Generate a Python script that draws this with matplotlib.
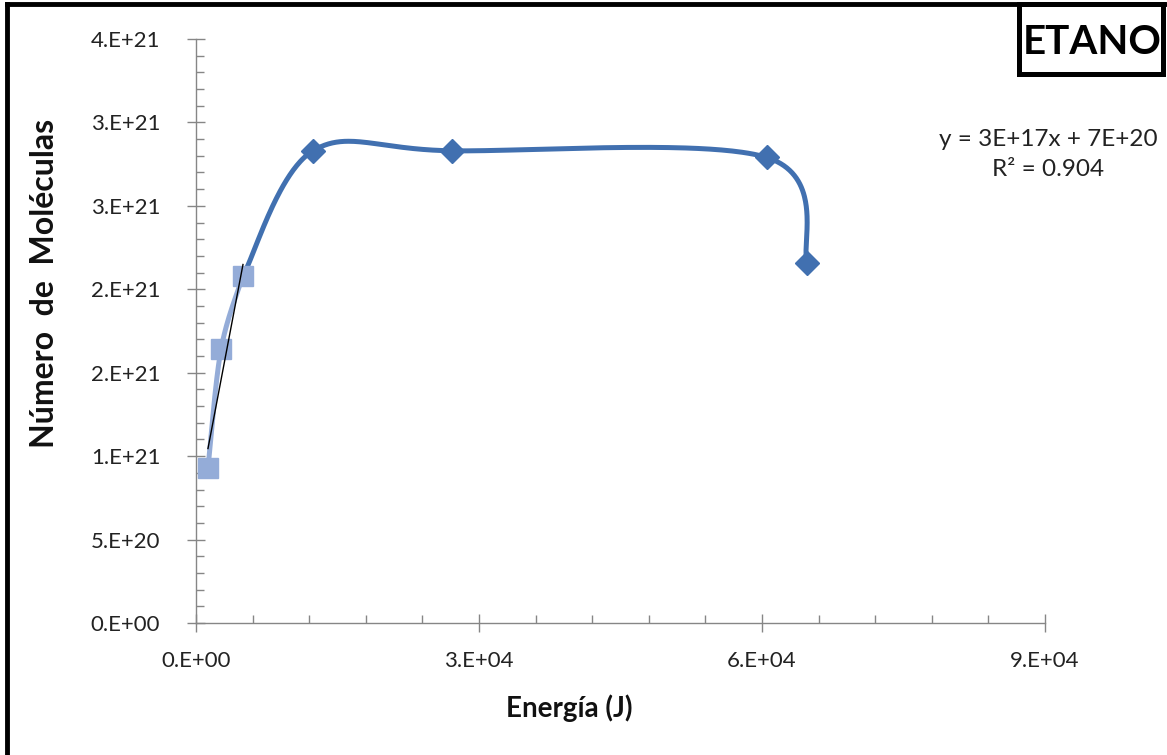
import numpy as np
import matplotlib
matplotlib.use("Agg")
import matplotlib.pyplot as plt
from matplotlib.ticker import FixedLocator, MultipleLocator
from matplotlib.patches import Rectangle
from matplotlib.lines import Line2D

# Datos: energía (J) frente a número de moléculas
energia_baja = [1270, 2650, 4980]
moleculas_baja = [0.93e21, 1.64e21, 2.08e21]
energia_alta = [4980, 12400, 27100, 60500, 64800]
moleculas_alta = [2.08e21, 2.83e21, 2.83e21, 2.79e21, 2.16e21]

y_ticks = [0, 5e20, 1.0e21, 1.5e21, 2.0e21, 2.5e21, 3.0e21, 3.5e21]
y_tick_labels = ["0.E+00", "5.E+20", "1.E+21", "2.E+21", "2.E+21", "3.E+21", "3.E+21", "4.E+21"]
x_ticks = [0, 3e4, 6e4, 9e4]
x_tick_labels = ["0.E+00", "3.E+04", "6.E+04", "9.E+04"]

plt.rcParams["font.family"] = ["Lato", "DejaVu Sans"]

W, H = 1167, 755
fig = plt.figure(figsize=(W / 100, H / 100), dpi=100)
fig.patch.set_facecolor("white")

def fx(px):
    return px / W

def fy(py):
    return 1 - py / H

ax = fig.add_axes([fx(196), fy(623), fx(1045) - fx(196), fy(39) - fy(623)])
ax.set_xlim(0, 9e4)
ax.set_ylim(0, 3.5e21)

gris = "#868686"
for s in ("top", "right"):
    ax.spines[s].set_visible(False)
for s in ("left", "bottom"):
    ax.spines[s].set_color(gris)
    ax.spines[s].set_linewidth(1.0)

ax.yaxis.set_major_locator(FixedLocator(y_ticks))
ax.set_yticklabels(y_tick_labels)
ax.yaxis.set_minor_locator(MultipleLocator(1e20))
ax.xaxis.set_major_locator(FixedLocator(x_ticks))
ax.set_xticklabels(x_tick_labels)
ax.xaxis.set_minor_locator(MultipleLocator(6e3))

ax.tick_params(which="major", direction="inout", length=12.5, width=1.0,
               color=gris, labelsize=16, labelcolor="#222222")
ax.tick_params(axis="y", which="major", pad=19.5)
ax.tick_params(axis="x", which="major", pad=14)
ax.tick_params(which="minor", direction="in", length=6, width=1.0, color=gris)


def suavizar(ax, xs, ys, n=80, t=1 / 6):
    """Curva suavizada tipo Bézier (Catmull-Rom) calculada en espacio de pantalla."""
    pts = ax.transData.transform(np.column_stack([xs, ys]))
    m = len(pts)
    out = [pts[0]]
    s = np.linspace(0, 1, n)[1:, None]
    for i in range(m - 1):
        p0 = pts[i - 1] if i > 0 else pts[i]
        p1 = pts[i]
        p2 = pts[i + 1]
        p3 = pts[i + 2] if i + 2 < m else pts[i + 1]
        c1 = p1 + (p2 - p0) * t
        c2 = p2 - (p3 - p1) * t
        seg = (1 - s) ** 3 * p1 + 3 * (1 - s) ** 2 * s * c1 + 3 * (1 - s) * s ** 2 * c2 + s ** 3 * p2
        out.extend(seg)
    return ax.transData.inverted().transform(np.array(out))


azul = "#4170B0"
azul_claro = "#94ACD8"

curva_b = suavizar(ax, energia_baja, moleculas_baja)
ax.plot(curva_b[:, 0], curva_b[:, 1], color=azul_claro, lw=3.6, solid_capstyle="round", zorder=2)
curva_a = suavizar(ax, energia_alta, moleculas_alta)
ax.plot(curva_a[:, 0], curva_a[:, 1], color=azul, lw=3.6, solid_capstyle="round", zorder=3)

ax.plot(energia_alta[1:], moleculas_alta[1:], linestyle="none", marker="D",
        markersize=12.5, color=azul, zorder=4)
ax.plot(energia_baja, moleculas_baja, linestyle="none", marker="s",
        markersize=14, color=azul_claro, zorder=5)

# Línea de tendencia lineal
pend, orig = np.polyfit(energia_baja, moleculas_baja, 1)
xt = np.array([min(energia_baja), max(energia_baja)])
ax.plot(xt, pend * xt + orig, color="black", lw=1.0, zorder=6)

fig.text(fx(45), fy(283), "Número  de  Moléculas", rotation=90, ha="center", va="center",
         fontsize=23, fontweight="bold", color="#111111")
fig.text(fx(569), fy(708), "Energía (J)", ha="center", va="center",
         fontsize=20, fontweight="bold", color="#111111")

fig.text(fx(1158), fy(140), "y = 3E+17x + 7E+20", ha="right", va="center",
         fontsize=17.5, color="#222222")
fig.text(fx(1048), fy(170), "R² = 0.904", ha="center", va="center",
         fontsize=17.5, color="#222222")

# Recuadro del título
fig.add_artist(Rectangle((fx(1019), fy(74)), fx(1163) - fx(1019), fy(4) - fy(74),
                         transform=fig.transFigure, fill=False, edgecolor="black", lw=3.6))
fig.text(fx(1092), fy(42), "ETANO", ha="center", va="center",
         fontsize=29, fontweight="bold", color="black")

# Marco exterior
fig.add_artist(Line2D([fx(7), fx(7)], [0, fy(4)], transform=fig.transFigure, color="black", lw=3.5))
fig.add_artist(Line2D([fx(7), 1], [fy(4), fy(4)], transform=fig.transFigure, color="black", lw=3.5))

fig.savefig("out.png", dpi=100)
